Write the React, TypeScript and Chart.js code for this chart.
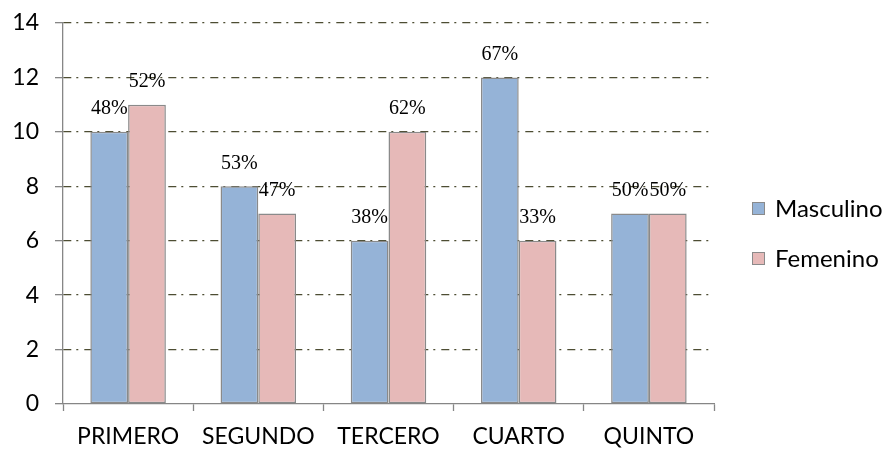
import React, { useEffect, useRef } from "react";
import { Chart, registerables } from "chart.js";

Chart.register(...registerables);

const categories = ["PRIMERO", "SEGUNDO", "TERCERO", "CUARTO", "QUINTO"];
const seriesNames = ["Masculino", "Femenino"];
const masculino = [10, 8, 6, 12, 7];
const femenino = [11, 7, 10, 6, 7];
const masculinoPct = ["48%", "53%", "38%", "67%", "50%"];
const femeninoPct = ["52%", "47%", "62%", "33%", "50%"];
const yMin = 0;
const yMax = 14;
const yStep = 2;

const BLUE = "#95B3D7";
const PINK = "#E6B9B8";
const BORDER = "#8a8a8a";
const AXIS = "#868686";
const GRID = "#4d4d33";
const SANS = "Lato, 'Open Sans', sans-serif";
const SERIF = "'Liberation Serif', 'Times New Roman', serif";

const pctLabels = [masculinoPct, femeninoPct];

const dataLabelPlugin = {
  id: "pctLabels",
  afterDatasetsDraw(chart: any) {
    const ctx = chart.ctx;
    ctx.save();
    ctx.font = `20px ${SERIF}`;
    ctx.fillStyle = "#000";
    ctx.textAlign = "center";
    ctx.textBaseline = "middle";
    chart.data.datasets.forEach((_ds: any, di: number) => {
      const meta = chart.getDatasetMeta(di);
      meta.data.forEach((bar: any, i: number) => {
        ctx.fillText(pctLabels[di][i], bar.x, bar.y - 23);
      });
    });
    ctx.restore();
  },
};

const legendPlugin = {
  id: "sideLegend",
  afterDraw(chart: any) {
    const ctx = chart.ctx;
    const area = chart.chartArea;
    const x0 = area.right + 38;
    const cy = (area.top + area.bottom) / 2 + 20;
    const spacing = 50;
    const n = chart.data.datasets.length;
    ctx.save();
    ctx.font = `24px ${SANS}`;
    ctx.textBaseline = "middle";
    ctx.textAlign = "left";
    chart.data.datasets.forEach((ds: any, i: number) => {
      const y = cy + (i - (n - 1) / 2) * spacing;
      ctx.fillStyle = ds.backgroundColor;
      ctx.fillRect(x0, y - 6.5, 13, 13);
      ctx.strokeStyle = BORDER;
      ctx.lineWidth = 1;
      ctx.strokeRect(x0 + 0.5, y - 6, 12, 12);
      ctx.fillStyle = "#000";
      ctx.fillText(ds.label, x0 + 23, y + 1);
    });
    ctx.restore();
  },
};

export default function App() {
  const ref = useRef<HTMLCanvasElement | null>(null);
  useEffect(() => {
    if (!ref.current) return;
    const chart = new Chart(ref.current, {
      type: "bar",
      data: {
        labels: categories,
        datasets: [
          {
            label: seriesNames[0],
            data: masculino,
            backgroundColor: BLUE,
            borderColor: BORDER,
            borderWidth: 1.5,
            borderSkipped: false,
          },
          {
            label: seriesNames[1],
            data: femenino,
            backgroundColor: PINK,
            borderColor: BORDER,
            borderWidth: 1.5,
            borderSkipped: false,
          },
        ],
      },
      options: {
        responsive: false,
        animation: false,
        devicePixelRatio: 1,
        layout: { padding: { top: 23, right: 173, left: 0, bottom: 0 } },
        plugins: {
          legend: { display: false },
          tooltip: { enabled: false },
        },
        datasets: {
          bar: { categoryPercentage: 0.58, barPercentage: 1 },
        },
        scales: {
          x: {
            offset: true,
            grid: {
              display: true,
              drawOnChartArea: false,
              drawTicks: true,
              tickLength: 7,
              tickColor: AXIS,
              tickWidth: 1.3,
              offset: true,
            },
            border: { display: true, color: AXIS, width: 1.3 },
            ticks: {
              color: "#000",
              font: { family: SANS, size: 23 },
              padding: 12,
              maxRotation: 0,
              autoSkip: false,
            },
            afterFit(scale: any) {
              scale.height = 45;
              scale.paddingLeft = 0;
              scale.paddingRight = 0;
            },
          },
          y: {
            min: yMin,
            max: yMax,
            grid: {
              color: (c: any) => (c.tick && c.tick.value === 0 ? "rgba(0,0,0,0)" : GRID),
              lineWidth: 1.3,
              drawTicks: true,
              tickLength: 8,
              tickColor: AXIS,
              tickWidth: 1.3,
              tickBorderDash: [],
            },
            border: { display: true, color: AXIS, width: 1.3, dash: [8, 5, 2, 6] },
            ticks: {
              stepSize: yStep,
              color: "#000",
              font: { family: SANS, size: 23 },
              padding: 16,
            },
            afterFit(scale: any) {
              scale.width = 63;
              scale.paddingTop = 0;
              scale.paddingBottom = 0;
            },
          },
        },
      },
      plugins: [dataLabelPlugin, legendPlugin],
    } as any);
    return () => chart.destroy();
  }, []);
  return (
    <div style={{ position: "fixed", left: 0, top: 0, width: 887, height: 449, background: "#fff" }}>
      <canvas ref={ref} width={887} height={449} style={{ display: "block" }} />
    </div>
  );
}
